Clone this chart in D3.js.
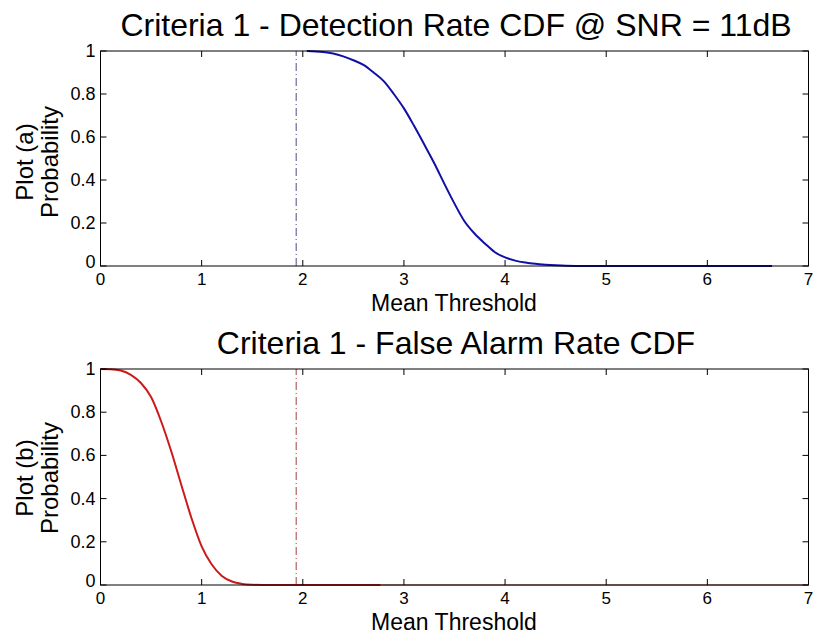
<!DOCTYPE html>
<html><head><meta charset="utf-8">
<script src="https://cdn.jsdelivr.net/npm/d3@7"></script>
<style>body{margin:0;background:#fff}svg{display:block}text{font-family:"Liberation Sans",Arial,sans-serif;fill:#000}</style>
</head><body><svg id="c" width="816" height="637"></svg>
<script>
// ---- data ----
const xTicks = [0,1,2,3,4,5,6,7];
const yTicks = [0,0.2,0.4,0.6,0.8,1];
const yTickLabels = ["0","0.2","0.4","0.6","0.8","1"];
const thresholdX = 1.935;
const detX = [2.04,2.2,2.3,2.4,2.5,2.6,2.7,2.8,2.9,3.0,3.1,3.2,3.3,3.4,3.5,3.6,3.7,3.8,3.9,4.0,4.1,4.2,4.3,4.4,4.5,4.6,4.8,6.64];
const detY = [1.0,0.995,0.988,0.975,0.957,0.935,0.900,0.860,0.800,0.733,0.652,0.566,0.478,0.382,0.290,0.207,0.150,0.105,0.064,0.040,0.025,0.016,0.010,0.006,0.003,0.001,0,0];
const faX = [0,0.1,0.2,0.3,0.4,0.5,0.6,0.7,0.8,0.9,1.0,1.1,1.2,1.3,1.4,1.5,1.6,2.77];
const faY = [1,0.999,0.993,0.973,0.935,0.87,0.757,0.618,0.462,0.309,0.179,0.095,0.042,0.016,0.005,0.001,0,0];
const faTailX = [2.77,7];
const faTailY = [0,0];

const svg = d3.select("#c");
const x = d3.scaleLinear().domain([0,7]).range([100.5,808.5]);

function panel(opts){
  const y = d3.scaleLinear().domain([0,1]).range([opts.bottom, opts.top]);
  const g = svg.append("g");
  g.append("line").attr("x1",x(thresholdX)).attr("x2",x(thresholdX))
    .attr("y1",y(0)).attr("y2",y(1)).attr("stroke",opts.dashColor)
    .attr("stroke-width",1.2).attr("stroke-dasharray","8,3,1,3");
  const line = d3.line().x(d=>x(d[0])).y(d=>y(d[1])).curve(d3.curveMonotoneX);
  if(opts.tail){
    g.append("path").datum(d3.zip(opts.tail[0],opts.tail[1])).attr("d",line)
     .attr("fill","none").attr("stroke",opts.tailColor).attr("stroke-width",1);
  }
  g.append("path").datum(d3.zip(opts.xs,opts.ys)).attr("d",line)
    .attr("fill","none").attr("stroke",opts.color).attr("stroke-width",2);
  g.append("rect").attr("x",x(0)).attr("y",y(1)).attr("width",x(7)-x(0)).attr("height",y(0)-y(1))
    .attr("fill","none").attr("stroke","#000").attr("stroke-width",1);
  xTicks.forEach(t=>{
    g.append("line").attr("x1",x(t)).attr("x2",x(t)).attr("y1",y(0)).attr("y2",y(0)-6).attr("stroke","#000");
    g.append("line").attr("x1",x(t)).attr("x2",x(t)).attr("y1",y(1)).attr("y2",y(1)+6).attr("stroke","#000");
    g.append("text").attr("x",x(t)).attr("y",y(0)+19).attr("text-anchor","middle")
      .attr("font-size",17).text(t);
  });
  yTicks.forEach((t,i)=>{
    g.append("line").attr("x1",x(0)).attr("x2",x(0)+6).attr("y1",y(t)).attr("y2",y(t)).attr("stroke","#000");
    g.append("line").attr("x1",x(7)).attr("x2",x(7)-6).attr("y1",y(t)).attr("y2",y(t)).attr("stroke","#000");
    g.append("text").attr("x",x(0)-5).attr("y",y(t)+(t===0?2:6)).attr("text-anchor","end")
      .attr("font-size",18).text(yTickLabels[i]);
  });
  g.append("text").attr("x",456).attr("y",opts.top-15).attr("text-anchor","middle")
    .attr("font-size",32).text(opts.title);
  g.append("text").attr("x",454).attr("y",opts.bottom+45).attr("text-anchor","middle")
    .attr("font-size",23).text("Mean Threshold");
  const cy = opts.ylabY;
  g.append("text").attr("transform",`translate(33,${cy}) rotate(-90)`).attr("text-anchor","middle")
    .attr("font-size",24).text(opts.ylab1);
  g.append("text").attr("transform",`translate(58,${cy}) rotate(-90)`).attr("text-anchor","middle")
    .attr("font-size",24).text("Probability");
}

panel({top:51,bottom:266,xs:detX,ys:detY,color:"#1010a8",dashColor:"#6a6a9a",ylabY:162,
  title:"Criteria 1 - Detection Rate CDF @ SNR = 11dB",ylab1:"Plot (a)"});
panel({top:369,bottom:585,xs:faX,ys:faY,color:"#cc1a1a",dashColor:"#b06060",ylabY:478,
  tail:[faTailX,faTailY],tailColor:"#9a3030",
  title:"Criteria 1 - False Alarm Rate CDF",ylab1:"Plot (b)"});
</script></body></html>
